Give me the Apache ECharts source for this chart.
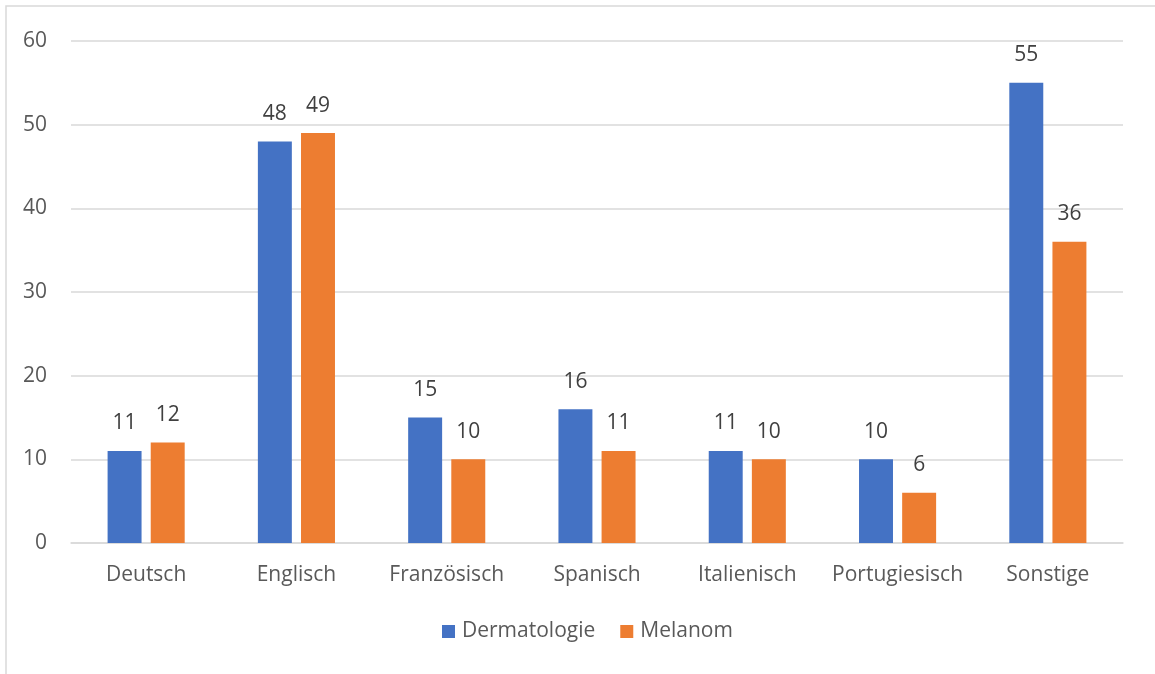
<!DOCTYPE html>
<html>
<head>
<meta charset="utf-8">
<script src="https://cdn.jsdelivr.net/npm/echarts@6/dist/echarts.min.js"></script>
<style>
  html, body { margin: 0; padding: 0; background: #fff; }
  #chart { width: 1155px; height: 674px; }
</style>
</head>
<body>
<div id="chart"></div>
<script>
// Sprachen der Publikationen
const categories = ['Deutsch', 'Englisch', 'Französisch', 'Spanisch', 'Italienisch', 'Portugiesisch', 'Sonstige'];
const dermatologie = [11, 48, 15, 16, 11, 10, 55];
const melanom = [12, 49, 10, 11, 10, 6, 36];
const yTicks = { min: 0, max: 60, interval: 10 };

const FONT = '"Open Sans", "Noto Sans", sans-serif';
const TEXT = '#595959';

const chart = echarts.init(document.getElementById('chart'), null, { renderer: 'canvas' });

const labelStyle = { show: true, position: 'top', distance: 17, color: '#404040', fontFamily: FONT, fontSize: 21 };

chart.setOption({
  animation: false,
  backgroundColor: '#ffffff',
  graphic: [{
    type: 'rect',
    shape: { x: 6, y: 6, width: 1160, height: 680 },
    style: { fill: 'none', stroke: '#d9d9d9', lineWidth: 1.5 }
  }],
  grid: { left: 71, right: 32, top: 41, bottom: 131, containLabel: false },
  legend: {
    bottom: 27,
    left: 437,
    itemWidth: 13,
    itemHeight: 13,
    itemGap: 25,
    icon: 'rect',
    textStyle: { color: TEXT, fontFamily: FONT, fontSize: 21, padding: [0, 0, 0, 2] },
    data: ['Dermatologie', 'Melanom']
  },
  xAxis: {
    type: 'category',
    data: categories,
    axisLine: { lineStyle: { color: '#d9d9d9', width: 1.5 } },
    axisTick: { show: false },
    axisLabel: { color: TEXT, fontFamily: FONT, fontSize: 21, margin: 22, interval: 0 }
  },
  yAxis: {
    type: 'value',
    min: yTicks.min,
    max: yTicks.max,
    interval: yTicks.interval,
    axisLine: { show: false },
    axisTick: { show: false },
    splitLine: { lineStyle: { color: '#d9d9d9', width: 1.5 } },
    axisLabel: { color: TEXT, fontFamily: FONT, fontSize: 21, margin: 24 }
  },
  series: [
    {
      name: 'Dermatologie',
      type: 'bar',
      data: dermatologie,
      barWidth: '22.6%',
      barGap: '27%',
      itemStyle: { color: '#4472c4' },
      label: labelStyle
    },
    {
      name: 'Melanom',
      type: 'bar',
      data: melanom,
      barWidth: '22.6%',
      barGap: '27%',
      itemStyle: { color: '#ed7d31' },
      label: labelStyle
    }
  ]
});
</script>
</body>
</html>
